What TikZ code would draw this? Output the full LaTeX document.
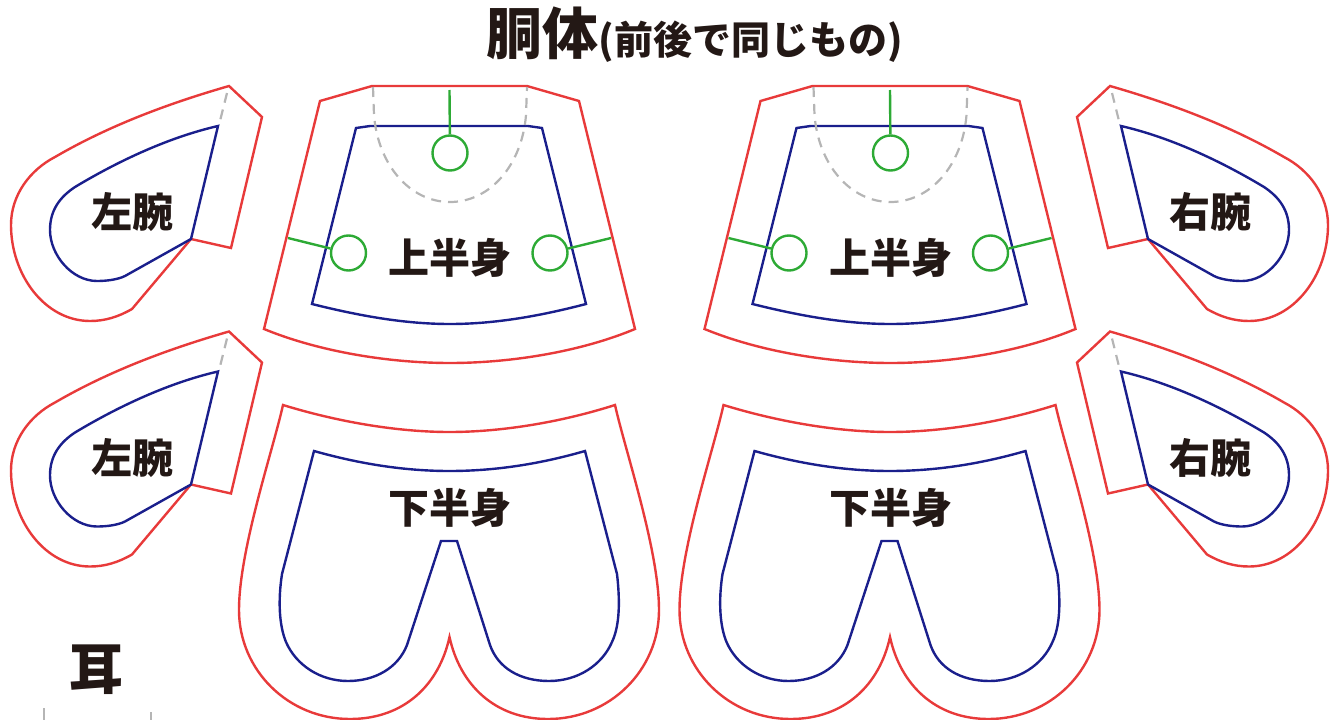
\documentclass[tikz,border=0pt]{standalone}
\usepackage{fontspec}
\newfontfamily\jpfont[BoldFont=* Black]{Noto Sans CJK JP}
\definecolor{cutred}{HTML}{E83A3A}
\definecolor{sewblue}{HTML}{1A1F8C}
\definecolor{tiegreen}{HTML}{2DAA35}
\definecolor{foldgray}{HTML}{B5B5B5}
\definecolor{inkblack}{HTML}{231815}
\tikzset{
  cutline/.style={draw=cutred, line width=2.4pt, line join=miter},
  sewline/.style={draw=sewblue, line width=2.4pt, line join=miter},
  foldline/.style={draw=foldgray, line width=2.2pt, dash pattern=on 10pt off 7pt},
  tieline/.style={draw=tiegreen, line width=2.4pt},
  hole/.style={circle, draw=tiegreen, line width=2.4pt, minimum size=35pt, inner sep=0pt},
  partname/.style={font=\jpfont\bfseries\fontsize{41}{41}\selectfont, text=inkblack, inner sep=0pt},
}
\begin{document}
\begin{tikzpicture}[x=1pt, y=-1pt]
\useasboundingbox (0,0) rectangle (1336,720);

\node[partname] (title) at (695,35) {\fontsize{56}{56}\selectfont 胴体\fontsize{39}{39}\selectfont (前後で同じもの)};

% arms
\foreach \sx/\ox/\oy in {1/0/0, 1/0/245.5, -1/1339/0, -1/1339/245.5} {
\begin{scope}[shift={(\ox,\oy)}, xscale=\sx]
\draw[cutline] (229,86) -- (262,117) -- (231,248) -- (191,239) -- (132,309)
  .. controls (118,317) and (105,321) .. (90,321)
  .. controls (45,321) and (11,275) .. (11,225)
  .. controls (11,195) and (30,170) .. (55,157)
  .. controls (110,125) and (170,103) .. (229,86) -- cycle;
\draw[sewline] (218,126) -- (191,239) -- (125,276)
  .. controls (118,279.5) and (107,281) .. (97,281)
  .. controls (72,281) and (50,255) .. (50,230)
  .. controls (50,210) and (60,197) .. (75,187)
  .. controls (120,160) and (170,137) .. (218,126) -- cycle;
\draw[foldline] (227,93) -- (219,125);
\end{scope}
}

\node[partname] (armL1) at (132,212) {左腕};
\node[partname] (armL2) at (132,458) {左腕};
\node[partname] (armR1) at (1210,212) {右腕};
\node[partname] (armR2) at (1210,458) {右腕};

% body
\foreach \ox/\nm in {0/a, 440.5/b} {
\begin{scope}[shift={(\ox,0)}]
\draw[cutline] (320,101) -- (372,86) -- (527,86) -- (579,101) -- (635,329)
  .. controls (580,352) and (510,363) .. (450,363)
  .. controls (390,363) and (320,352) .. (264,329) -- cycle;
\draw[sewline] (356,128) -- (370,126) -- (528,126) -- (542,128) -- (586,304)
  .. controls (540,316) and (495,324) .. (450,324)
  .. controls (405,324) and (360,316) .. (312,304) -- cycle;
\draw[foldline] (373,87) -- (374,115) .. controls (378,165) and (410,202) .. (450,202)
  .. controls (490,202) and (522,165) .. (526,115) -- (527,87);
\coordinate (topend\nm) at (449.5,90);
\coordinate (leftend\nm) at (288,238);
\coordinate (rightend\nm) at (611,238);
\node[hole] (tophole\nm) at (450,153) {};
\node[hole] (lefthole\nm) at (348.5,253) {};
\node[hole] (righthole\nm) at (550,253) {};
\draw[tieline] (topend\nm) -- (tophole\nm);
\draw[tieline] (leftend\nm) -- (lefthole\nm);
\draw[tieline] (rightend\nm) -- (righthole\nm);
\node[partname] (upper\nm) at (450,258) {上半身};

\draw[cutline] (283,405) .. controls (335,421) and (395,432) .. (449.5,432)
  .. controls (505,432) and (565,421) .. (615,405)
  .. controls (625,450) and (659,550) .. (659,610)
  .. controls (659,670) and (610,719) .. (548,719)
  .. controls (495,719) and (460,685) .. (449.5,637)
  .. controls (439,685) and (404,719) .. (350,719)
  .. controls (288,719) and (239,670) .. (239,610)
  .. controls (239,550) and (273,450) .. (283,405) -- cycle;
\draw[sewline] (314,451) .. controls (360,464) and (405,471) .. (449.5,471)
  .. controls (495,471) and (540,464) .. (585,451)
  -- (617,574) .. controls (620,600) and (620,625) .. (612,642)
  .. controls (602,665) and (578,681) .. (549,681)
  .. controls (520,681) and (498,668) .. (490,645)
  -- (457,541) -- (441,541) -- (407,645)
  .. controls (398,668) and (375,681) .. (348,681)
  .. controls (320,681) and (296,665) .. (286,642)
  .. controls (279,625) and (278,600) .. (282,574) -- cycle;
\node[partname] (lower\nm) at (450,508) {下半身};
\end{scope}
}

% ear
\node[partname, font=\jpfont\bfseries\fontsize{54}{54}\selectfont] (ear) at (96,670) {耳};
\draw[draw=foldgray, line width=2.2pt] (44,708) -- (44,720);
\draw[draw=foldgray, line width=2.2pt] (151,712) -- (151,720);
\end{tikzpicture}
\end{document}
